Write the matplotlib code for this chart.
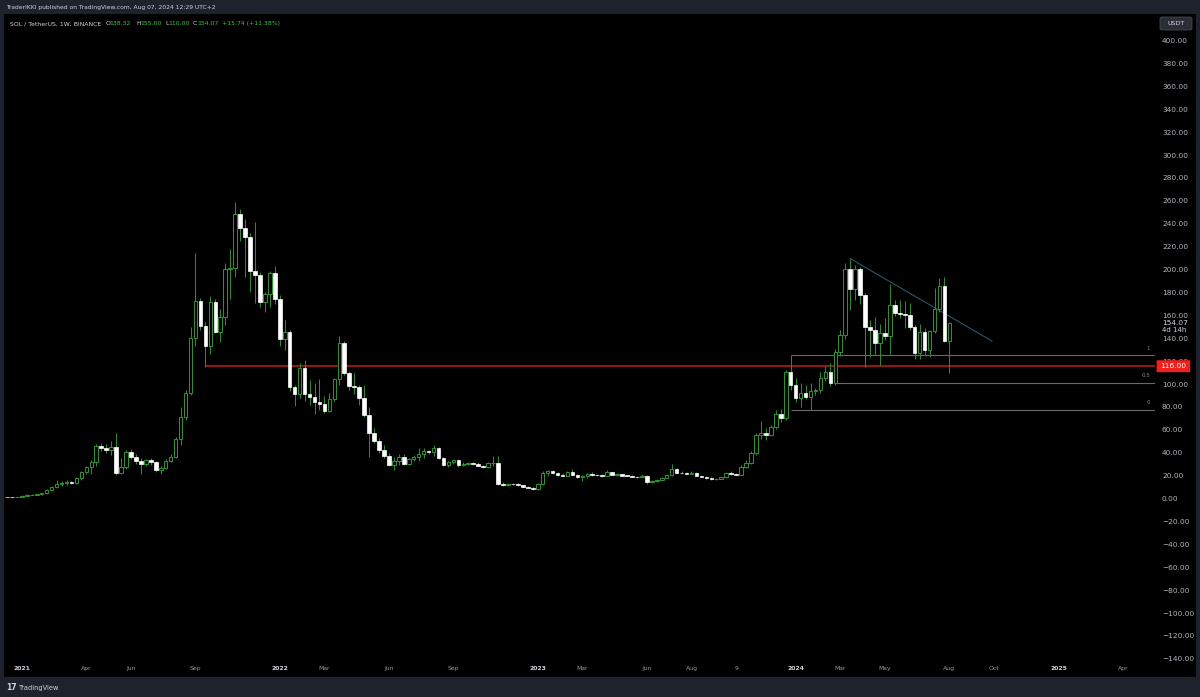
import matplotlib
matplotlib.use('Agg')
import matplotlib.pyplot as plt
from matplotlib.patches import Rectangle, FancyBboxPatch
import pandas as pd

# Weekly SOL/USDT candles, first week starts Monday 2020-12-14
start = pd.Timestamp('2020-12-14')

opens = [1.6, 1.5, 1.45, 2.0, 3.0, 3.4, 3.7, 4.1, 5.0, 7.8,
         10.5, 13.5, 13.8, 14.5, 14.0, 18.0, 23.4, 28.0, 32.5, 46.0,
         45.0, 42.5, 45.7, 23.0, 27.7, 41.3, 37.0, 33.3, 30.3, 33.8,
         32.0, 25.0, 27.4, 33.3, 36.8, 52.0, 71.3, 93.0, 141.0, 173.0,
         151.0, 134.0, 172.0, 146.0, 159.0, 201.0, 202.0, 249.0, 237.0, 229.0,
         199.0, 196.0, 172.0, 179.0, 197.0, 175.0, 140.0, 146.0, 98.0, 92.0,
         114.0, 92.0, 89.0, 85.0, 83.0, 77.0, 87.0, 105.0, 136.0, 110.0,
         99.0, 97.5, 88.0, 73.0, 57.4, 51.0, 43.0, 38.0, 29.5, 33.0,
         37.0, 31.0, 35.0, 37.0, 39.7, 41.6, 40.7, 44.3, 35.5, 29.5,
         32.0, 34.0, 29.5, 31.0, 31.2, 30.9, 29.0, 28.2, 31.5, 31.8,
         13.0, 12.0, 12.9, 12.7, 12.0, 10.8, 9.6, 8.5, 12.8, 22.4,
         24.2, 22.6, 21.0, 20.3, 23.3, 21.2, 19.5, 20.0, 21.8, 21.0,
         20.6, 20.3, 23.5, 21.2, 21.7, 20.5, 20.3, 19.6, 19.3, 20.5,
         14.5, 15.7, 17.0, 18.6, 20.9, 26.0, 23.1, 22.4, 22.2, 22.8,
         20.4, 19.3, 18.3, 17.4, 17.6, 18.9, 22.4, 21.8, 21.0, 27.7,
         31.7, 39.8, 55.5, 57.5, 56.0, 62.5, 74.0, 71.0, 111.0, 100.0,
         88.0, 92.3, 89.5, 94.0, 94.8, 106.0, 111.0, 101.5, 128.6, 143.0,
         200.6, 183.0, 201.0, 178.0, 150.0, 148.0, 136.5, 145.3, 142.7, 169.4,
         162.2, 162.0, 160.7, 150.5, 127.2, 146.1, 130.1, 146.7, 166.0, 186.0,
         138.32]
highs = [1.75, 1.6, 2.2, 3.8, 4.1, 4.0, 4.6, 5.5, 9.0, 11.5,
         17.0, 16.0, 16.5, 16.0, 19.2, 24.5, 29.2, 34.0, 48.0, 49.0,
         48.0, 51.0, 57.4, 35.4, 42.7, 44.0, 39.0, 36.0, 35.0, 36.0,
         33.5, 29.0, 35.0, 39.6, 54.0, 80.0, 95.0, 150.0, 215.0, 176.0,
         155.0, 177.0, 175.0, 166.0, 206.0, 218.0, 259.0, 253.0, 245.0, 232.0,
         242.0, 198.0, 181.0, 199.0, 203.5, 178.0, 156.0, 148.0, 100.0, 118.5,
         121.0, 104.0, 101.0, 105.0, 90.0, 93.0, 106.0, 142.0, 138.0, 112.0,
         110.0, 100.0, 100.0, 80.0, 62.0, 53.0, 47.0, 40.5, 37.0, 39.0,
         39.0, 36.0, 38.5, 45.0, 45.0, 43.0, 47.2, 45.8, 36.5, 33.0,
         35.0, 35.0, 32.0, 32.5, 32.0, 32.0, 30.0, 32.5, 37.6, 38.0,
         14.5, 14.0, 14.0, 13.8, 12.4, 11.4, 10.3, 13.8, 24.5, 25.5,
         25.0, 24.0, 22.5, 24.5, 26.3, 22.0, 21.0, 22.5, 23.5, 22.0,
         21.5, 25.2, 24.0, 22.6, 22.0, 21.2, 21.0, 20.3, 21.6, 21.0,
         16.5, 17.5, 19.0, 21.5, 30.6, 27.0, 24.5, 23.5, 24.8, 23.2,
         21.2, 20.0, 19.0, 18.5, 19.6, 23.0, 24.6, 22.6, 30.0, 34.0,
         42.0, 58.0, 68.0, 62.0, 65.0, 78.0, 79.0, 113.0, 125.6, 106.0,
         101.0, 100.0, 101.0, 97.0, 111.0, 116.0, 119.0, 131.0, 148.0, 206.0,
         210.0, 204.0, 203.0, 180.0, 156.0, 159.0, 153.0, 158.0, 188.0, 174.0,
         174.0, 173.0, 171.0, 152.0, 153.0, 149.0, 148.0, 184.0, 193.0, 194.0,
         155.0]
lows = [1.45, 1.2, 1.4, 1.9, 2.8, 3.1, 3.4, 3.9, 4.8, 7.2,
        10.0, 11.0, 12.5, 13.0, 12.8, 17.0, 21.6, 22.0, 28.6, 42.0,
        40.0, 38.5, 21.0, 22.0, 26.5, 35.0, 31.0, 22.0, 29.0, 30.0,
        24.0, 21.5, 26.5, 32.0, 35.5, 47.0, 69.0, 91.0, 134.0, 148.0,
        115.0, 127.0, 145.0, 137.0, 152.0, 175.0, 194.0, 225.0, 194.0, 181.0,
        171.0, 168.0, 163.0, 168.0, 170.0, 134.0, 130.0, 94.0, 81.0, 88.0,
        86.0, 82.0, 74.0, 78.0, 75.0, 76.0, 86.0, 100.0, 108.0, 95.0,
        92.0, 82.0, 72.0, 36.4, 49.0, 40.0, 36.0, 28.5, 25.0, 30.0,
        30.0, 30.0, 33.0, 33.0, 36.0, 39.0, 37.8, 35.0, 29.0, 28.0,
        31.0, 28.0, 28.5, 30.0, 30.0, 28.5, 27.0, 27.5, 28.5, 12.0,
        11.5, 11.5, 12.3, 11.5, 10.5, 9.2, 8.0, 8.2, 12.5, 20.5,
        21.5, 20.3, 19.8, 20.0, 21.0, 18.5, 16.0, 18.5, 20.0, 19.8,
        19.5, 20.0, 20.8, 20.5, 20.0, 19.8, 19.2, 18.8, 18.9, 13.2,
        14.0, 15.0, 16.5, 18.0, 20.5, 22.5, 22.0, 22.0, 21.8, 20.0,
        19.0, 17.8, 16.8, 16.7, 17.2, 18.5, 21.4, 20.8, 20.7, 27.0,
        31.0, 38.5, 52.0, 51.5, 55.0, 61.0, 67.0, 69.0, 95.0, 85.0,
        80.0, 87.0, 77.7, 91.0, 93.0, 103.0, 99.0, 100.0, 125.0, 140.0,
        165.0, 174.0, 170.0, 115.0, 124.0, 126.0, 117.0, 139.0, 127.0, 160.0,
        158.0, 149.0, 148.0, 122.0, 122.0, 126.0, 124.0, 145.0, 163.0, 137.0,
        110.0]
closes = opens[1:] + [154.07]

# time axis labels (TradingView style)
tick_dates = ['2021-01-04', '2021-04-05', '2021-06-07', '2021-09-06', '2022-01-03',
              '2022-03-07', '2022-06-06', '2022-09-05', '2023-01-02', '2023-03-06',
              '2023-06-05', '2023-08-07', '2023-10-09', '2024-01-01', '2024-03-04',
              '2024-05-06', '2024-08-05', '2024-10-07', '2025-01-06', '2025-04-07']
tick_labels = ['2021', 'Apr', 'Jun', 'Sep', '2022', 'Mar', 'Jun', 'Sep', '2023', 'Mar',
               'Jun', 'Aug', '9', '2024', 'Mar', 'May', 'Aug', 'Oct', '2025', 'Apr']
price_ticks = list(range(-140, 401, 20))

# drawings
support_level = 116.0
support_start = '2021-09-20'
fib_levels = [('1', 125.6, '2023-12-25'), ('0.5', 101.65, '2024-02-26'), ('0', 77.7, '2023-12-25')]
trend_start = ('2024-03-18', 210.0)
trend_end = ('2024-10-04', 138.0)

GREEN = '#2f8f30'
W, H = 1200, 697


def fx(px):
    return px / W


def fy(py):
    return 1 - py / H


def week(d):
    return (pd.Timestamp(d) - start).days / 7


fig = plt.figure(figsize=(12, 6.97), dpi=100, facecolor='#1e222d')
fig.add_artist(Rectangle((fx(4), fy(677)), fx(1196) - fx(4), fy(14) - fy(677),
                         transform=fig.transFigure, facecolor='black', edgecolor='none', zorder=0))

ymin, ymax = -143.2, 423.6
ax = fig.add_axes([fx(5), fy(663), fx(1155) - fx(5), fy(14) - fy(663)])
ax.set_facecolor('black')
ax.set_xlim(-0.4, 231.45)
ax.set_ylim(ymin, ymax)
for s in ax.spines.values():
    s.set_visible(False)
ax.set_yticks([])

# candles
xs = list(range(len(opens)))
ax.vlines(xs, lows, highs, color=GREEN, lw=0.7, zorder=2)
for i in xs:
    o, c = opens[i], closes[i]
    bottom, height = min(o, c), max(abs(c - o), 0.3)
    if c >= o:
        ax.add_patch(Rectangle((i - 0.36, bottom), 0.72, height, facecolor='black',
                               edgecolor=GREEN, lw=0.75, zorder=3))
    else:
        ax.add_patch(Rectangle((i - 0.36, bottom), 0.72, height, facecolor='white',
                               edgecolor='white', lw=0.5, zorder=3))

# horizontal support
ax.hlines(support_level, week(support_start), 231.45, color='#8e1717', lw=1.5, zorder=1)

# fib retracement levels
for lab, lvl, d in fib_levels:
    ax.hlines(lvl, week(d), 231.45, color='#6a6a6a', lw=0.8, zorder=1)
    ax.text(230.5, lvl + 4, lab, color='#8a8a8a', fontsize=4, ha='right', va='bottom')

# descending trendline
ax.plot([week(trend_start[0]), week(trend_end[0])], [trend_start[1], trend_end[1]],
        color='#2c5566', lw=0.8, zorder=1)

# x axis labels
ax.set_xticks([week(d) for d in tick_dates])
ax.set_xticklabels(tick_labels)
ax.tick_params(axis='x', length=0, pad=2.5, labelsize=4.4, colors='#9598a1')
for t in ax.get_xticklabels():
    if t.get_text().isdigit() and len(t.get_text()) == 4:
        t.set_fontweight('bold')
        t.set_color('#d1d4dc')

# price axis strip
pax = fig.add_axes([fx(1155), fy(663), fx(1196) - fx(1155), fy(14) - fy(663)])
pax.set_xlim(0, 1)
pax.set_ylim(ymin, ymax)
pax.axis('off')
for p in price_ticks:
    lbl = f'{p:.2f}'.replace('-', '\u2212')
    pax.text(0.17, p, lbl, color='#b2b5be', fontsize=5.3, ha='left', va='center', clip_on=True)
pax.text(0.17, 154.07, '154.07', color='#d1d4dc', fontsize=5.3, ha='left', va='center')
pax.text(0.17, 147.5, '4d 14h', color='#d1d4dc', fontsize=5.0, ha='left', va='center')
pax.add_patch(FancyBboxPatch((0.04, support_level - 5.2), 0.82, 10.4,
                             boxstyle='round,pad=0,rounding_size=0.05',
                             facecolor='#f0201d', edgecolor='none', zorder=5))
pax.text(0.45, support_level, f'{support_level:.2f}', color='white', fontsize=5.3,
         ha='center', va='center', zorder=6)

# USDT box
fig.add_artist(FancyBboxPatch((fx(1160), fy(30)), fx(1192) - fx(1160), fy(17) - fy(30),
                              boxstyle='round,pad=0,rounding_size=0.002',
                              transform=fig.transFigure, facecolor='#2a2e39',
                              edgecolor='#434651', lw=0.6))
fig.text(fx(1176), fy(23.5), 'USDT', color='#d1d4dc', fontsize=4.6, ha='center', va='center')

# header texts
fig.text(fx(6), fy(8), 'TraderIKKI published on TradingView.com, Aug 07, 2024 12:29 UTC+2',
         color='#d1d4dc', fontsize=4.3, ha='left', va='center')
legend_parts = [(10, 'SOL / TetherUS, 1W, BINANCE', '#d1d4dc'),
                (106, 'O', '#d1d4dc'), (109, '138.32', '#3fc14a'),
                (136, 'H', '#d1d4dc'), (140, '155.00', '#3fc14a'),
                (165, 'L', '#d1d4dc'), (168, '110.00', '#3fc14a'),
                (193, 'C', '#d1d4dc'), (197, '154.07', '#3fc14a'),
                (222, '+15.74 (+11.38%)', '#3fc14a')]
for px, txt, col in legend_parts:
    fig.text(fx(px), fy(23.5), txt, color=col, fontsize=4.4, ha='left', va='center')

# footer logo
fig.text(fx(6), fy(688), '17', color='#d1d4dc', fontsize=5.5, fontweight='bold',
         ha='left', va='center')
fig.text(fx(19), fy(688), 'TradingView', color='#d1d4dc', fontsize=4.8, ha='left', va='center')

fig.savefig('out.png', dpi=100, facecolor=fig.get_facecolor())
